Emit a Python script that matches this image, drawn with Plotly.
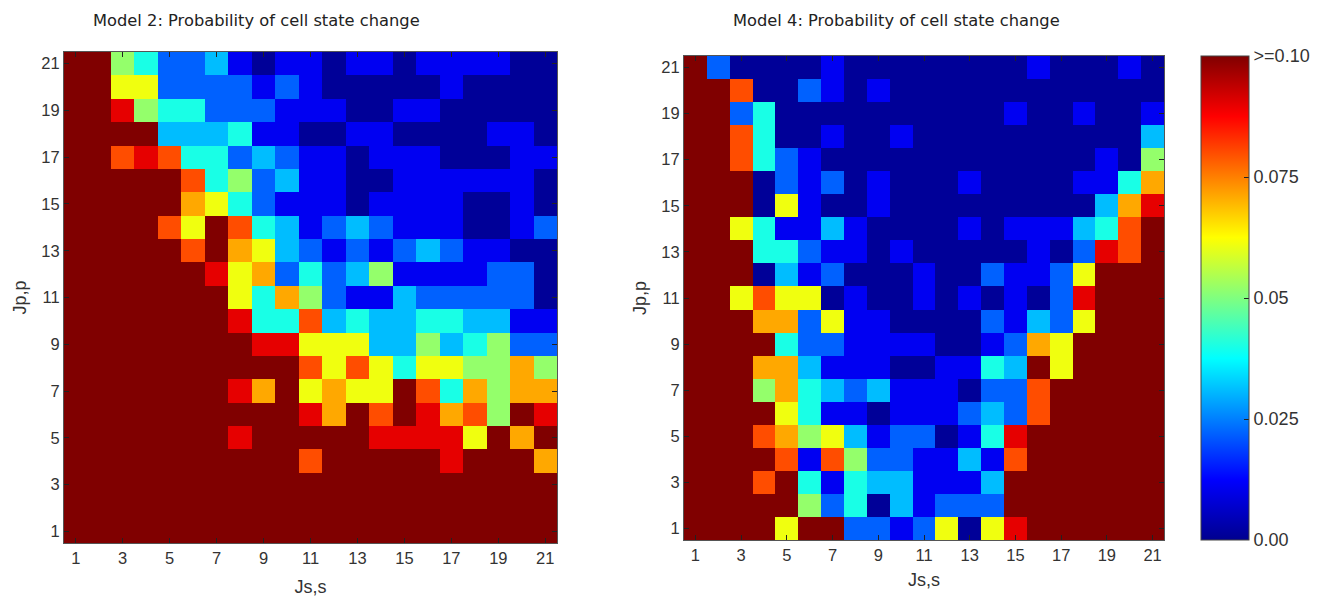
import plotly.graph_objects as go

js_values = list(range(1, 22))
jp_values = list(range(21, 0, -1))
tick_values = list(range(1, 22, 2))

# thousandths of a probability, rows run from Jp=21 (top) to Jp=1 (bottom)
model2 = [
[100,100,52,40,22,22,31,11,1,11,11,1,11,11,1,11,11,11,11,1,1],
[100,100,61,61,22,22,22,22,11,22,11,1,1,1,1,1,11,1,1,1,1],
[100,100,90,52,40,40,22,22,22,11,11,11,1,1,11,11,1,1,1,1,1],
[100,100,100,100,31,31,31,40,11,11,1,1,11,11,1,1,1,1,11,11,1],
[100,100,80,90,80,40,40,22,31,22,11,11,1,11,11,11,1,1,1,11,11],
[100,100,100,100,100,80,40,52,22,31,11,11,1,1,11,11,11,11,11,11,1],
[100,100,100,100,100,71,61,40,22,11,11,11,1,11,11,11,11,1,1,11,1],
[100,100,100,100,80,61,100,80,40,31,11,22,31,22,11,11,11,1,1,11,22],
[100,100,100,100,100,80,100,71,61,31,22,11,22,11,22,31,22,11,11,1,1],
[100,100,100,100,100,100,90,61,71,22,40,22,31,52,11,11,11,11,22,22,1],
[100,100,100,100,100,100,100,61,40,71,52,22,11,11,31,22,22,22,22,22,1],
[100,100,100,100,100,100,100,90,40,40,80,31,40,31,31,40,40,31,31,11,11],
[100,100,100,100,100,100,100,100,90,90,61,61,61,31,31,52,31,40,52,22,22],
[100,100,100,100,100,100,100,100,100,100,80,61,80,61,40,61,61,52,52,71,52],
[100,100,100,100,100,100,100,90,71,100,61,71,61,61,100,80,40,71,52,71,71],
[100,100,100,100,100,100,100,100,100,100,90,71,100,80,100,90,71,80,52,100,90],
[100,100,100,100,100,100,100,90,100,100,100,100,100,90,90,90,90,61,100,71,100],
[100,100,100,100,100,100,100,100,100,100,80,100,100,100,100,100,90,100,100,100,71],
[100,100,100,100,100,100,100,100,100,100,100,100,100,100,100,100,100,100,100,100,100],
[100,100,100,100,100,100,100,100,100,100,100,100,100,100,100,100,100,100,100,100,100],
[100,100,100,100,100,100,100,100,100,100,100,100,100,100,100,100,100,100,100,100,100],
]

model4 = [
[100,22,1,1,1,1,11,1,1,1,1,1,1,1,1,11,1,1,1,11,1],
[100,100,80,1,1,22,11,1,11,1,1,1,1,1,1,1,1,1,1,1,1],
[100,100,22,40,1,1,1,1,1,1,1,1,1,1,11,1,1,11,1,1,11],
[100,100,80,40,1,1,11,1,1,11,1,1,1,1,1,1,1,1,1,1,31],
[100,100,80,40,22,11,1,1,1,1,1,1,1,1,1,1,1,1,11,1,52],
[100,100,100,1,22,11,22,1,11,1,1,1,11,1,1,1,1,11,11,40,71],
[100,100,100,1,61,11,1,1,11,1,1,1,1,1,1,1,1,1,31,71,90],
[100,100,61,40,11,11,31,11,1,1,1,1,11,1,11,11,11,31,40,80,100],
[100,100,100,40,40,22,11,11,1,11,1,1,1,1,1,11,1,22,90,80,100],
[100,100,100,1,31,11,22,1,1,1,11,1,1,22,11,11,22,61,100,100,100],
[100,100,61,80,61,61,1,11,1,1,11,1,11,1,11,1,22,90,100,100,100],
[100,100,100,71,71,22,61,11,11,1,1,1,1,22,11,31,22,61,100,100,100],
[100,100,100,100,40,22,22,11,11,11,11,1,1,11,22,71,61,100,100,100,100],
[100,100,100,71,71,31,11,11,11,1,1,11,11,40,31,100,61,100,100,100,100],
[100,100,100,52,71,40,31,22,31,11,11,11,1,22,22,80,100,100,100,100,100],
[100,100,100,100,61,40,11,11,1,11,11,11,22,31,22,80,100,100,100,100,100],
[100,100,100,80,71,52,61,31,11,22,22,1,11,40,90,100,100,100,100,100,100],
[100,100,100,100,80,11,80,52,22,22,11,11,31,11,80,100,100,100,100,100,100],
[100,100,100,80,100,40,11,40,31,31,11,11,11,31,100,100,100,100,100,100,100],
[100,100,100,100,100,52,22,40,1,31,11,22,22,22,100,100,100,100,100,100,100],
[100,100,100,100,61,100,100,22,22,11,22,61,1,61,90,100,100,100,100,100,100],
]

colorbar_ticks = [0, 0.025, 0.05, 0.075, 0.1]
colorbar_labels = ["0.00", "0.025", "0.05", "0.075", ">=0.10"]

jet = [
    [0.0, "rgb(0,0,143)"], [0.125, "rgb(0,0,255)"], [0.375, "rgb(0,255,255)"],
    [0.625, "rgb(255,255,0)"], [0.875, "rgb(255,0,0)"], [1.0, "rgb(128,0,0)"],
]

W, H = 1322, 597
TICK = dict(family="Liberation Sans, Arial, sans-serif", size=16.5, color="#333333")
TITLE = dict(family="DejaVu Sans, sans-serif", size=16.3, color="#222222")
LABEL = dict(family="Liberation Sans, Arial, sans-serif", size=18, color="#333333")


def per_mille(rows):
    return [[v / 1000 for v in row] for row in rows]


def px(a, b):
    return [a / W, b / W]


def py(top, bottom):
    return [1 - bottom / H, 1 - top / H]


fig = go.Figure()
fig.add_trace(go.Heatmap(
    x=js_values, y=jp_values, z=per_mille(model2), xaxis="x", yaxis="y",
    coloraxis="coloraxis", xgap=0, ygap=0,
))
fig.add_trace(go.Heatmap(
    x=js_values, y=jp_values, z=per_mille(model4), xaxis="x2", yaxis="y2",
    coloraxis="coloraxis", xgap=0, ygap=0,
))


def axis(domain, anchor, title, standoff):
    return dict(
        domain=domain, anchor=anchor, range=[0.5, 21.5], tickmode="array",
        tickvals=tick_values, ticktext=[str(t) for t in tick_values],
        ticks="inside", ticklen=5, tickwidth=1, tickcolor="#222222",
        showline=True, linecolor="#555555", linewidth=1, mirror="allticks",
        showgrid=False, zeroline=False, tickfont=TICK,
        title=dict(text=title, font=LABEL, standoff=standoff),
    )


fig.update_layout(
    width=W, height=H, autosize=False, paper_bgcolor="white", plot_bgcolor="white",
    margin=dict(l=0, r=0, t=0, b=0), showlegend=False,
    xaxis=axis(px(64, 557), "y", "Js,s", 16),
    yaxis=axis(py(52, 543), "x", "Jp,p", 10),
    xaxis2=axis(px(684, 1164), "y2", "Js,s", 10),
    yaxis2=axis(py(56, 540), "x2", "Jp,p", 10),
    coloraxis=dict(
        colorscale=jet, cmin=0, cmax=0.1,
        colorbar=dict(
            x=1201 / W, xanchor="left", y=1 - 540 / H, yanchor="bottom",
            len=484 / H, lenmode="fraction", thickness=48, thicknessmode="pixels",
            tickmode="array", tickvals=colorbar_ticks, ticktext=colorbar_labels,
            ticks="inside", ticklen=5, tickcolor="#222222", tickfont=dict(TICK, size=18),
            outlinecolor="#444444", outlinewidth=1, xpad=0, ypad=0,
        ),
    ),
    annotations=[
        dict(text="Model 2: Probability of cell state change", xref="paper", yref="paper",
             x=256 / W, y=1 - 20 / H, xanchor="center", yanchor="middle", showarrow=False, font=TITLE),
        dict(text="Model 4: Probability of cell state change", xref="paper", yref="paper",
             x=896 / W, y=1 - 20 / H, xanchor="center", yanchor="middle", showarrow=False, font=TITLE),
    ],
)

fig.write_html(
    "out.html",
    config={"displayModeBar": False},
    post_script="document.body.style.margin='0';document.body.style.overflow='hidden';",
)
